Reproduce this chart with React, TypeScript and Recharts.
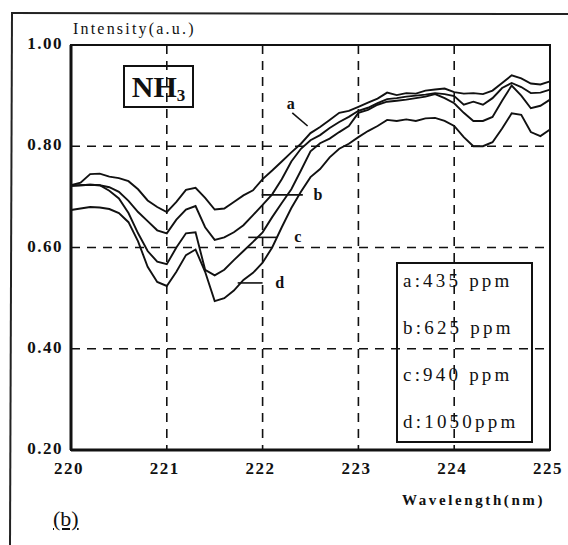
import React from "react";
import {
  LineChart,
  Line,
  XAxis,
  YAxis,
  CartesianGrid,
  ReferenceLine,
  ReferenceArea,
} from "recharts";

// wavelength (nm), sampled every 0.1 nm
const wavelengths = [
  220.0, 220.1, 220.2, 220.3, 220.4, 220.5, 220.6, 220.7, 220.8, 220.9,
  221.0, 221.1, 221.2, 221.3, 221.4, 221.5, 221.6, 221.7, 221.8, 221.9,
  222.0, 222.1, 222.2, 222.3, 222.4, 222.5, 222.6, 222.7, 222.8, 222.9,
  223.0, 223.1, 223.2, 223.3, 223.4, 223.5, 223.6, 223.7, 223.8, 223.9,
  224.0, 224.1, 224.2, 224.3, 224.4, 224.5, 224.6, 224.7, 224.8, 224.9,
  225.0,
];

// a: 435 ppm
const seriesA = [
  0.723, 0.728, 0.745, 0.746, 0.740, 0.737, 0.731, 0.715, 0.693, 0.680,
  0.670, 0.690, 0.714, 0.718, 0.698, 0.675, 0.677, 0.690, 0.703, 0.713,
  0.735, 0.752, 0.770, 0.788, 0.805, 0.826, 0.838, 0.852, 0.866, 0.870,
  0.878, 0.886, 0.894, 0.906, 0.901, 0.905, 0.904, 0.910, 0.912, 0.914,
  0.907, 0.904, 0.905, 0.903, 0.910, 0.925, 0.940, 0.934, 0.924, 0.922,
  0.928,
];

// b: 625 ppm
const seriesB = [
  0.722, 0.723, 0.724, 0.723, 0.719, 0.710, 0.692, 0.670, 0.652, 0.634,
  0.628, 0.655, 0.675, 0.682, 0.640, 0.615, 0.620, 0.630, 0.644, 0.664,
  0.684, 0.705, 0.735, 0.770, 0.795, 0.812, 0.822, 0.836, 0.848, 0.858,
  0.870, 0.876, 0.885, 0.893, 0.895, 0.898, 0.900, 0.902, 0.905, 0.903,
  0.899, 0.882, 0.888, 0.882, 0.895, 0.915, 0.925, 0.917, 0.905, 0.906,
  0.912,
];

// c: 940 ppm
const seriesC = [
  0.722, 0.723, 0.724, 0.723, 0.712, 0.697, 0.668, 0.628, 0.593, 0.572,
  0.567, 0.600, 0.628, 0.630, 0.556, 0.545, 0.556, 0.575, 0.593, 0.611,
  0.630, 0.660, 0.688, 0.715, 0.752, 0.790, 0.806, 0.815, 0.828, 0.840,
  0.866, 0.872, 0.882, 0.888, 0.890, 0.892, 0.895, 0.898, 0.903, 0.895,
  0.885, 0.866, 0.850, 0.850, 0.858, 0.890, 0.920, 0.900, 0.875, 0.880,
  0.892,
];

// d: 1050 ppm
const seriesD = [
  0.674, 0.677, 0.680, 0.679, 0.676, 0.668, 0.650, 0.612, 0.562, 0.532,
  0.524, 0.552, 0.585, 0.596, 0.552, 0.494, 0.500, 0.515, 0.536, 0.550,
  0.570, 0.600, 0.640, 0.678, 0.710, 0.739, 0.755, 0.778, 0.795, 0.805,
  0.818, 0.830, 0.840, 0.852, 0.850, 0.853, 0.850, 0.855, 0.856, 0.850,
  0.840, 0.818, 0.800, 0.800, 0.808, 0.835, 0.865, 0.862, 0.828, 0.820,
  0.833,
];

const xTicks = [220, 221, 222, 223, 224, 225];
const yTicks = [0.2, 0.4, 0.6, 0.8, 1.0];

const legendLines = ["a:435 ppm", "b:625 ppm", "c:940 ppm", "d:1050ppm"];

// curve labels: leader segment [x1, y1, x2, y2] and text position [x, y]
const labelNames = ["a", "b", "c", "d"];
const labelSegments = [
  [222.31, 0.866, 222.47, 0.84],
  [221.99, 0.704, 222.42, 0.704],
  [221.85, 0.62, 222.15, 0.62],
  [221.74, 0.53, 222.0, 0.53],
];
const labelTextPos = [
  [222.22, 0.884],
  [222.5, 0.704],
  [222.3, 0.62],
  [222.1, 0.53],
];

const data = wavelengths.map((x, i) => ({
  x,
  a: seriesA[i],
  b: seriesB[i],
  c: seriesC[i],
  d: seriesD[i],
}));

const serif = "'Liberation Serif', 'Times New Roman', serif";

const YTick = ({ x, y, payload }: any) => (
  <text
    x={x}
    y={y + 4}
    textAnchor="end"
    fontFamily={serif}
    fontSize={17}
    fontWeight="bold"
    letterSpacing={1.5}
    fill="#111"
  >
    {Number(payload.value).toFixed(2)}
  </text>
);

const XTick = ({ x, y, payload }: any) => (
  <text
    x={x - 2}
    y={y + 16}
    textAnchor="middle"
    fontFamily={serif}
    fontSize={17}
    fontWeight="bold"
    letterSpacing={1.5}
    fill="#111"
  >
    {payload.value}
  </text>
);

const CurveLabel = (name: string) => ({ viewBox }: any) => (
  <text
    x={viewBox.x + 3}
    y={viewBox.y + 5}
    fontFamily={serif}
    fontSize={16}
    fontWeight="bold"
    fill="#111"
  >
    {name}
  </text>
);

export default function App() {
  return (
    <div
      style={{
        position: "absolute",
        left: 0,
        top: 0,
        width: 568,
        height: 545,
        background: "#fff",
      }}
    >
      <div style={{ position: "absolute", left: 0, top: 0 }}>
        <LineChart
          width={568}
          height={545}
          data={data}
          margin={{ top: 45, right: 18, left: 11, bottom: 65 }}
        >
          <CartesianGrid
            stroke="#111"
            strokeWidth={1.6}
            strokeDasharray="9 7"
          />
          <XAxis
            dataKey="x"
            type="number"
            domain={[220, 225]}
            ticks={xTicks}
            tick={<XTick />}
            tickLine={false}
            axisLine={{ stroke: "#111", strokeWidth: 3 }}
            height={30}
          />
          <YAxis
            type="number"
            domain={[0.2, 1.0]}
            ticks={yTicks}
            tick={<YTick />}
            tickLine={false}
            axisLine={{ stroke: "#111", strokeWidth: 3 }}
            width={60}
          />
          <ReferenceArea
            x1={220}
            x2={225}
            y1={0.2}
            y2={1.0}
            fill="none"
            stroke="#111"
            strokeWidth={2}
            ifOverflow="visible"
          />
          <Line type="linear" dataKey="a" stroke="#111" strokeWidth={1.9} dot={false} isAnimationActive={false} />
          <Line type="linear" dataKey="b" stroke="#111" strokeWidth={1.9} dot={false} isAnimationActive={false} />
          <Line type="linear" dataKey="c" stroke="#111" strokeWidth={1.9} dot={false} isAnimationActive={false} />
          <Line type="linear" dataKey="d" stroke="#111" strokeWidth={1.9} dot={false} isAnimationActive={false} />
          {labelSegments.map((s, i) => (
            <ReferenceLine
              key={"seg" + i}
              segment={[
                { x: s[0], y: s[1] },
                { x: s[2], y: s[3] },
              ]}
              stroke="#111"
              strokeWidth={1.6}
            />
          ))}
          {labelTextPos.map((p, i) => (
            <ReferenceLine
              key={"lab" + i}
              segment={[
                { x: p[0], y: p[1] },
                { x: p[0], y: p[1] },
              ]}
              stroke="none"
              label={CurveLabel(labelNames[i])}
            />
          ))}
        </LineChart>
      </div>

      {/* outer figure frame (top and left edges only) */}
      <svg
        width={568}
        height={545}
        style={{ position: "absolute", left: 0, top: 0, pointerEvents: "none" }}
      >
        <line x1={11} y1={13} x2={568} y2={14} stroke="#222" strokeWidth={2} />
        <line x1={12} y1={13} x2={10} y2={545} stroke="#222" strokeWidth={2} />
      </svg>

      {/* axis titles */}
      <div
        style={{
          position: "absolute",
          left: 73,
          top: 20,
          fontFamily: serif,
          fontSize: 16,
          letterSpacing: 2.2,
          color: "#111",
          lineHeight: "18px",
          whiteSpace: "nowrap",
        }}
      >
        Intensity(a.u.)
      </div>
      <div
        style={{
          position: "absolute",
          left: 402,
          top: 491,
          fontFamily: serif,
          fontSize: 15,
          fontWeight: "bold",
          letterSpacing: 2.6,
          color: "#111",
          lineHeight: "18px",
          whiteSpace: "nowrap",
        }}
      >
        Wavelength(nm)
      </div>
      <div
        style={{
          position: "absolute",
          left: 53,
          top: 507,
          fontFamily: serif,
          fontSize: 22,
          color: "#111",
          textDecoration: "underline",
          lineHeight: "24px",
        }}
      >
        (b)
      </div>

      {/* NH3 tag */}
      <div
        style={{
          position: "absolute",
          left: 123,
          top: 65,
          width: 67,
          height: 39,
          border: "2px solid #111",
          fontFamily: serif,
          fontSize: 30,
          fontWeight: "bold",
          color: "#111",
          textAlign: "center",
          lineHeight: "40px",
        }}
      >
        NH<sub style={{ fontSize: 17, verticalAlign: "-4px" }}>3</sub>
      </div>

      {/* concentration legend */}
      <div
        style={{
          position: "absolute",
          left: 396,
          top: 262,
          width: 133,
          height: 177,
          border: "2px solid #111",
          fontFamily: serif,
          fontSize: 19,
          color: "#111",
        }}
      >
        {legendLines.map((t, i) => (
          <div
            key={t}
            style={{
              position: "absolute",
              left: 5,
              top: 6 + i * 47,
              letterSpacing: 3.2,
              whiteSpace: "nowrap",
            }}
          >
            {t}
          </div>
        ))}
      </div>
    </div>
  );
}
